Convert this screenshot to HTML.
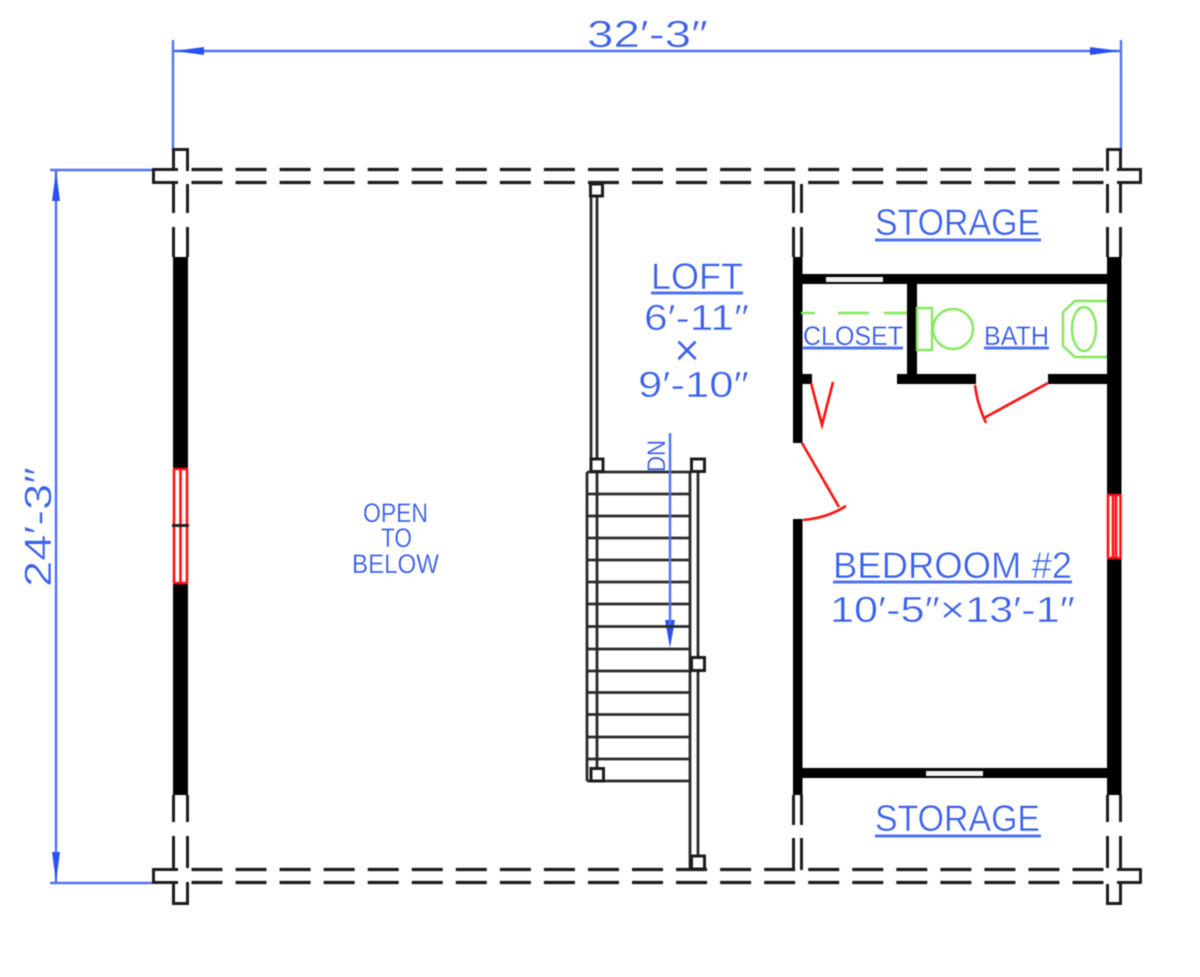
<!DOCTYPE html>
<html><head><meta charset="utf-8"><style>
html,body{margin:0;padding:0;background:#fff}
svg{display:block;filter:blur(.6px)}
text{font-family:"Liberation Sans",sans-serif;fill:#3a60ea;stroke:#fff;stroke-width:.5px}
text.s{stroke-width:.25px;fill:#3459e8}
.k{stroke:#1c1c1c;stroke-width:3;fill:none}
.t{stroke:#2a2a2a;stroke-width:2.8;fill:none}
.d{stroke:#1c1c1c;stroke-width:3.2;fill:none;stroke-dasharray:31 13.05}
.b{fill:#000}
.r{stroke:#f11;stroke-width:2.6;fill:none}
.g{stroke:#85e85e;stroke-width:2.4;fill:none}
.u{stroke:#4f72f0;stroke-width:3;fill:none}
.l{stroke:#4f72f0;stroke-width:2.4;fill:none}
</style></head><body>
<svg width="1200" height="977" viewBox="0 0 1200 977" xmlns="http://www.w3.org/2000/svg">
<rect width="1200" height="977" fill="#fff"/>

<!-- dimensions -->
<path class="l" d="M173 40V150M1121 40V150M174 51H1120M50 170H152M50 883H152M56 171V882"/>
<path fill="#2a50f0" d="M174 51l30-4v8zM1120 51l-30-4v8zM56 171l-4 30h8zM56 882l-4-30h8zM665 620h10l-5 28z"/>
<text x="587" y="47" font-size="38" textLength="121" lengthAdjust="spacingAndGlyphs">32′-3″</text>
<text transform="translate(51 587) rotate(-90)" font-size="38" textLength="120" lengthAdjust="spacingAndGlyphs">24′-3″</text>

<!-- outer walls -->
<path class="d" d="M191.500 169.500H1106M191.500 182.500H1106M191.500 869.500H1106M191.500 882.500H1106"/>
<path class="k" d="M173.500 170V149.500H187.500V171M173.500 184V213M187.500 184V213M173.500 227V257M187.500 227V257M178 169.500H153.500V182.500H178"/>
<path class="k" d="M1107.500 171V149.500H1120.500V169.500H1140.500V182.500H1117M1117 169.500H1121M1107.500 184V213M1120.500 184V213M1107.500 227V257M1120.500 227V257"/>
<path class="k" d="M173.500 795V822M187.500 795V822M173.500 836V868M187.500 836V868M173.500 882V903.500H187.500V882M178 869.500H153.500V882.500H178"/>
<path class="k" d="M1107.500 795V822M1120.500 795V822M1107.500 836V868M1120.500 836V869.500H1140.500V882.500H1117M1117 869.500H1121M1107.500 884V903.500H1120.500V884"/>
<rect class="b" x="173" y="257" width="15" height="211"/>
<rect class="b" x="173" y="583" width="15" height="212"/>
<rect class="b" x="1107" y="257" width="14.500" height="238"/>
<rect class="b" x="1107" y="558" width="14.500" height="237"/>

<!-- windows -->
<path class="r" stroke-width="3" d="M174 469V583M180.500 469V583M187 469V583M173 469H188M173 583H188"/>
<rect x="172" y="524" width="17" height="3" fill="#222"/>
<path class="r" d="M1108 495V558M1113 495V558M1116 495V558M1120.500 495V558M1107 495H1121M1107 558H1121"/>

<!-- interior partition -->
<path class="k" d="M775 182.500H793.500V213M793.500 227V257M801.500 184V213M801.500 227V257M793.500 795V825M801.500 795V825M793.500 838V869.500H780M801.500 838V870"/>
<rect class="b" x="793" y="257" width="9.500" height="186"/>
<rect class="b" x="793" y="519" width="9.500" height="276"/>
<rect class="b" x="802" y="274" width="305" height="10"/>
<rect x="826" y="277" width="57" height="5" fill="#f2f2f2"/>
<rect class="b" x="907" y="284" width="10" height="90"/>
<rect class="b" x="802" y="374" width="10" height="10"/>
<rect class="b" x="897" y="374" width="79" height="10"/>
<rect class="b" x="1048" y="374" width="59" height="10"/>
<rect class="b" x="802" y="768" width="305" height="10"/>
<rect x="926" y="771" width="57" height="5" fill="#f2f2f2"/>

<!-- doors -->
<path class="r" stroke-width="3" d="M811 383L822 425L833 382M975 385Q977 403 986 423M984 418L1048 383M802 443L839 507M803 520Q827 518 846 506M837 511L846 506"/>

<!-- fixtures -->
<path class="g" d="M801 313H815M838 313H869M884 313H907"/>
<rect class="g" x="917" y="308" width="15" height="42"/>
<circle class="g" cx="953" cy="329" r="20"/>
<path class="g" d="M1107 301H1075L1063 312V346L1075 357H1107"/>
<ellipse class="g" cx="1084" cy="329" rx="12" ry="22"/>

<!-- stairs -->
<path class="t" d="M591 196V458M597 196V458M587 472V781M597 472V768M690 472V869M698 472V855"/>
<path class="t" d="M587 472H691M587 494H690M587 516H690M587 538H690M587 560H690M587 582H690M587 604H690M587 626.500H690M587 649H690M587 671H690M587 692.500H690M587 714.500H690M587 737H690M587 759H690M587 781H690"/>
<g fill="#fff" class="k">
<rect x="590.500" y="184" width="12" height="12" fill="#fff"/>
<rect x="591" y="459" width="12" height="12.500" fill="#fff"/>
<rect x="691.500" y="459" width="13" height="12.500" fill="#fff"/>
<rect x="691.500" y="657.500" width="13" height="13" fill="#fff"/>
<rect x="591" y="768.500" width="12.500" height="12.500" fill="#fff"/>
<rect x="691.500" y="856" width="13" height="13" fill="#fff"/>
</g>
<path class="l" d="M670 433V625"/>
<text class="s" transform="translate(665 472) rotate(-90)" font-size="25" textLength="32" lengthAdjust="spacingAndGlyphs">DN</text>

<!-- labels -->
<text x="875" y="235" font-size="37" textLength="165" lengthAdjust="spacingAndGlyphs">STORAGE</text>
<path class="u" d="M875 240H1041"/>
<text x="875" y="831" font-size="37" textLength="165" lengthAdjust="spacingAndGlyphs">STORAGE</text>
<path class="u" d="M875 836H1041"/>
<text x="651" y="289" font-size="37" textLength="92" lengthAdjust="spacingAndGlyphs">LOFT</text>
<path class="u" d="M651 293H743"/>
<text x="644" y="330" font-size="36" textLength="105" lengthAdjust="spacingAndGlyphs">6′-11″</text>
<text x="674" y="365.500" font-size="45" textLength="26" lengthAdjust="spacingAndGlyphs">×</text>
<text x="638" y="397" font-size="36" textLength="111" lengthAdjust="spacingAndGlyphs">9′-10″</text>
<text class="s" x="803" y="345" font-size="27" textLength="100" lengthAdjust="spacingAndGlyphs">CLOSET</text>
<path class="u" d="M803 348H903"/>
<text class="s" x="984" y="345" font-size="27" textLength="65" lengthAdjust="spacingAndGlyphs">BATH</text>
<path class="u" d="M984 348H1049"/>
<text x="833" y="578" font-size="37" textLength="239" lengthAdjust="spacingAndGlyphs">BEDROOM #2</text>
<path class="u" d="M833 582H1072"/>
<text x="830" y="622" font-size="36" textLength="245" lengthAdjust="spacingAndGlyphs">10′-5″×13′-1″</text>
<text class="s" x="363" y="522" font-size="27" textLength="65" lengthAdjust="spacingAndGlyphs">OPEN</text>
<text class="s" x="381" y="547" font-size="27" textLength="31" lengthAdjust="spacingAndGlyphs">TO</text>
<text class="s" x="352" y="573" font-size="27" textLength="87" lengthAdjust="spacingAndGlyphs">BELOW</text>
</svg>
</body></html>
